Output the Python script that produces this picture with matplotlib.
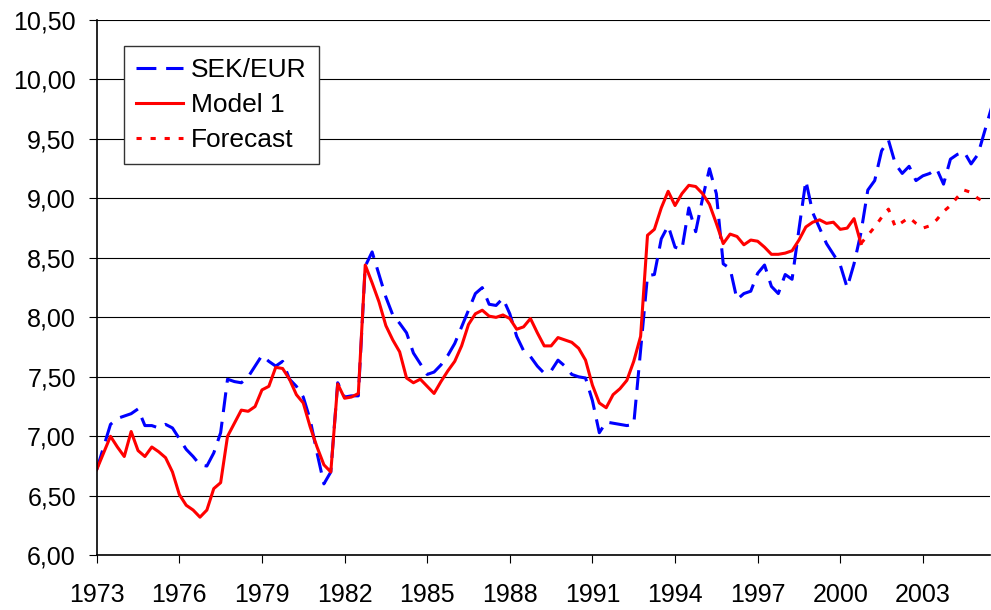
import numpy as np
import matplotlib
matplotlib.use("Agg")
import matplotlib.pyplot as plt
from matplotlib.ticker import FuncFormatter

# quarterly data, first quarter = 1973Q1
start_year = 1973
sek_eur = [6.72, 6.91, 7.10, 7.15, 7.17, 7.19, 7.23, 7.09, 7.09, 7.07,
	7.10, 7.07, 6.98, 6.89, 6.83, 6.76, 6.75, 6.86, 7.03, 7.48,
	7.46, 7.45, 7.50, 7.59, 7.68, 7.63, 7.59, 7.63, 7.48, 7.42,
	7.33, 7.14, 6.86, 6.60, 6.70, 7.45, 7.33, 7.34, 7.34, 8.43,
	8.55, 8.36, 8.17, 8.02, 7.95, 7.87, 7.70, 7.61, 7.52, 7.54,
	7.60, 7.68, 7.78, 7.92, 8.06, 8.20, 8.25, 8.11, 8.10, 8.16,
	8.03, 7.84, 7.72, 7.67, 7.59, 7.53, 7.55, 7.64, 7.59, 7.52,
	7.50, 7.49, 7.30, 7.03, 7.12, 7.11, 7.10, 7.09, 7.10, 7.72,
	8.35, 8.36, 8.66, 8.77, 8.59, 8.57, 8.92, 8.72, 9.00, 9.25,
	9.04, 8.45, 8.41, 8.15, 8.20, 8.22, 8.37, 8.44, 8.26, 8.20,
	8.36, 8.32, 8.74, 9.15, 8.88, 8.75, 8.62, 8.53, 8.44, 8.25,
	8.45, 8.71, 9.07, 9.15, 9.40, 9.49, 9.29, 9.21, 9.27, 9.15,
	9.19, 9.21, 9.25, 9.12, 9.33, 9.37, 9.39, 9.29, 9.37, 9.57,
	9.77]
model1 = [6.72, 6.86, 7.00, 6.91, 6.83, 7.04, 6.88, 6.83, 6.91, 6.87,
	6.82, 6.70, 6.51, 6.42, 6.38, 6.32, 6.38, 6.56, 6.61, 7.00,
	7.11, 7.22, 7.21, 7.25, 7.39, 7.42, 7.58, 7.57, 7.48, 7.35,
	7.28, 7.08, 6.91, 6.76, 6.70, 7.44, 7.32, 7.33, 7.36, 8.44,
	8.29, 8.13, 7.93, 7.81, 7.71, 7.49, 7.45, 7.48, 7.42, 7.36,
	7.46, 7.55, 7.63, 7.76, 7.94, 8.03, 8.06, 8.01, 8.00, 8.02,
	7.99, 7.90, 7.92, 7.99, 7.87, 7.76, 7.76, 7.83, 7.81, 7.79,
	7.74, 7.64, 7.43, 7.28, 7.24, 7.35, 7.40, 7.47, 7.63, 7.84,
	8.69, 8.74, 8.92, 9.06, 8.94, 9.04, 9.11, 9.10, 9.04, 8.95,
	8.79, 8.62, 8.70, 8.68, 8.61, 8.65, 8.64, 8.59, 8.53, 8.53,
	8.54, 8.56, 8.65, 8.76, 8.80, 8.82, 8.79, 8.80, 8.74, 8.75,
	8.83, 8.62]
forecast_start = 111
forecast = [8.62, 8.69, 8.76, 8.84, 8.91, 8.76, 8.80, 8.84, 8.79, 8.75,
	8.77, 8.82, 8.89, 8.94, 9.01, 9.07, 9.05, 9.00, 8.97]
xticks = list(range(1973, 2004, 3))
yticks = np.arange(6.0, 10.51, 0.5)


def quarters(n, s=0):
	return start_year + (np.arange(n) + s) / 4.0


plt.rcParams["font.family"] = ["Liberation Sans", "DejaVu Sans"]

fig = plt.figure(figsize=(9.91, 6.10), dpi=100)
ax = fig.add_axes([0.0976, 0.0898, 0.9014, 0.8774])

ax.plot(quarters(len(sek_eur)), sek_eur, color="#0000ff", lw=2.2,
	dashes=(6.5, 3.2), label="SEK/EUR")
ax.plot(quarters(len(model1)), model1, color="#ff0000", lw=2.2,
	label="Model 1")
ax.plot(quarters(len(forecast), forecast_start), forecast, color="#ff0000",
	lw=2.2, dashes=(1.7, 2.9), label="Forecast")

ax.set_xlim(1973, 1973 + 129.75 / 4)
ax.set_ylim(6, 10.5)
ax.set_xticks(xticks)
ax.set_yticks(yticks)
ax.yaxis.set_major_formatter(FuncFormatter(lambda v, p: ("%.2f" % v).replace(".", ",")))
ax.grid(axis="y", color="black", lw=0.8)
ax.set_axisbelow(True)
for s in ["top", "right"]:
	ax.spines[s].set_visible(False)
for s in ["left", "bottom"]:
	ax.spines[s].set_linewidth(1.2)
ax.tick_params(labelsize=18, length=6, width=0.8, direction="out")
ax.tick_params(axis="x", pad=14)
ax.tick_params(axis="y", pad=9)

leg = ax.legend(loc="upper left", bbox_to_anchor=(124 / 991, 1 - 46 / 610),
	bbox_transform=fig.transFigure, borderaxespad=0, fontsize=19,
	fancybox=False, framealpha=1, edgecolor="#333333", handlelength=1.8,
	handletextpad=0.3, labelspacing=0.42, borderpad=0.45)
leg.get_frame().set_linewidth(1.0)

fig.savefig("out.png", dpi=100)
